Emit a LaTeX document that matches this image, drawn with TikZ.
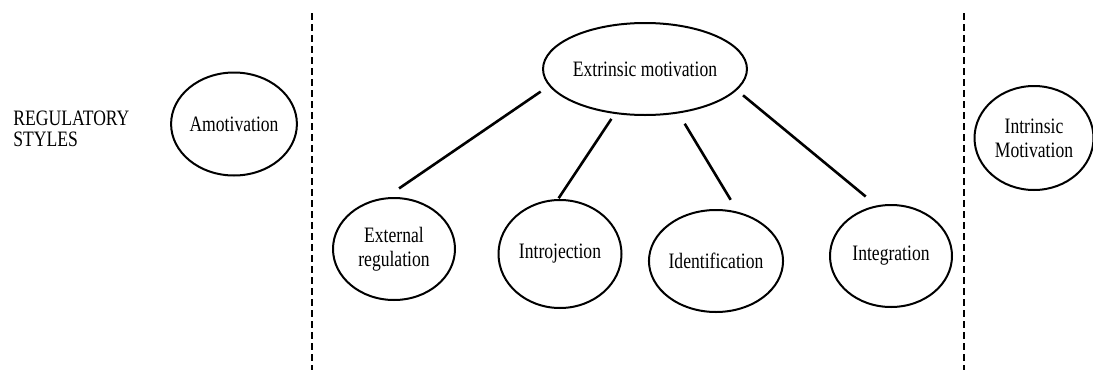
\documentclass[tikz,border=0pt]{standalone}
\usepackage{fontspec}
\setmainfont{Liberation Serif}[FakeStretch=0.8]
\usetikzlibrary{shapes.geometric}

\begin{document}
\begin{tikzpicture}[x=0.5pt, y=-0.5pt,
motnode/.style={ellipse, draw=black, line width=1pt, inner sep=0pt, minimum width=61pt, minimum height=51pt, align=center, font=\fontsize{11}{12}\selectfont},
link/.style={line width=1.3pt},
divider/.style={line width=0.8pt, dash pattern=on 3.5pt off 2pt}
]
    \useasboundingbox (0,0) rectangle (1093,370);

    \node [align=left, anchor=west, inner sep=0pt, font=\fontsize{11}{10.5}\selectfont] (lab) at (13,129) {REGULATORY\\STYLES};

    \node [motnode, minimum height=51.5pt] (a1) at (234,124) {Amotivation};

    \node [motnode, minimum width=88.5pt, minimum height=46pt] (b1) at (645,69) {Extrinsic motivation};

    \node [motnode] (c1) at (394,249) {External\\regulation};
    \node [motnode, minimum width=61.5pt, minimum height=54pt] (c2) at (560,254) {Introjection};
    \node [motnode] (c3) at (716,261) {Identification};
    \node [motnode] (c4) at (891,256) {Integration};

    \node [motnode, minimum width=59.5pt, minimum height=52pt] (d1) at (1034,138) {Intrinsic\\Motivation};

    \draw [divider] (312,13) -- (312,370);
    \draw [divider] (964,13) -- (964,370);

    \draw [link, shorten <=5pt, shorten >=8pt] (b1.190) -- (c1.99);
    \draw [link, shorten <=3pt, shorten >=0.5pt] (b1.236) -- (c2.92);
    \draw [link, shorten <=6pt, shorten >=7pt] (b1.307) -- (c3.66);
    \draw [link, shorten <=4pt, shorten >=7pt] (b1.347) -- (c4.106);

\end{tikzpicture}
\end{document}
